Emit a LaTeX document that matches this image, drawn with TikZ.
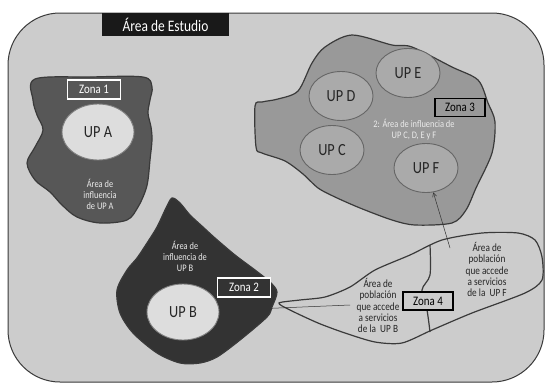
\documentclass[tikz,border=0pt]{standalone}
\usepackage{fontspec}
\setmainfont{Carlito}[FakeStretch=0.84]
\usetikzlibrary{shapes.geometric,arrows.meta}
\definecolor{bgc}{HTML}{CCCCCC}
\definecolor{zoneA}{HTML}{575757}
\definecolor{zoneB}{HTML}{333333}
\definecolor{zoneC}{HTML}{999999}
\definecolor{upc}{HTML}{AAAAAA}
\definecolor{upl}{HTML}{DDDDDD}
\definecolor{edge}{HTML}{3A3A3A}
\tikzset{
  blob/.style={draw=edge, line width=1.2pt},
  upbig/.style={ellipse, draw=gray, line width=0.9pt, fill=upl, minimum width=72pt, minimum height=56pt, inner sep=0pt, font=\fontsize{17}{17}\selectfont, text=black!85},
  upsmall/.style={ellipse, draw=gray!80!black, line width=0.9pt, fill=upc, minimum width=64pt, minimum height=49pt, inner sep=0pt, font=\fontsize{17}{17}\selectfont, text=black!85},
  zonewhite/.style={draw=white, line width=1.2pt, minimum width=53pt, minimum height=19pt, inner sep=0pt, font=\fontsize{13}{13}\selectfont, text=white},
  zoneblack/.style={draw=black, line width=1.4pt, minimum width=50pt, minimum height=18pt, inner sep=0pt, font=\fontsize{13}{13}\selectfont, text=black},
  wlabel/.style={align=center, inner sep=0pt, text=white!92!black, font=\fontsize{10}{11}\selectfont},
  blabel/.style={align=center, inner sep=0pt, text=black!85, font=\fontsize{11}{11.3}\selectfont},
  conn/.style={draw=black!80, line width=0.5pt, -{Straight Barb[length=4pt,width=4pt]}},
}
\begin{document}
\begin{tikzpicture}[x=1pt,y=-1pt]
\useasboundingbox (0,0) rectangle (545,383);
\fill[white] (0,0) rectangle (545,383);
% frame
\draw[fill=bgc, draw=edge, line width=1pt, rounded corners=52pt] (8,13) rectangle (544,382);
% title
\node[fill=black!90, minimum width=127pt, minimum height=23pt, inner sep=0pt, text=white, font=\fontsize{16}{16}\selectfont] (title) at (165.5,24.5) {Área de Estudio};

% Zone A
\draw[blob, fill=zoneA] plot[smooth cycle, tension=0.55] coordinates {
 (35,79) (90,77) (143,77) (152,87) (150,100) (148,113) (151,127) (152,140) (150,160) (148,180) (145,192) (138,207) (127,220) (100,223) (77,217) (62,205) (50,192) (35,180) (27,163) (35,147) (43,130) (37,115) (33,100)};
\node[zonewhite] (z1) at (94,89.5) {Zona 1};
\node[upbig] (upa) at (98,132) {UP A};
\node[wlabel] (la) at (100,194) {Área de\\influencia\\de UP A};

% Zone B
\draw[blob, fill=zoneB] plot[smooth cycle, tension=0.5] coordinates {
 (172,198) (180,203) (190,215) (203,227) (215,238) (235,255) (255,270) (270,282) (277,292) (272,307) (267,317) (240,340) (217,357) (200,363) (180,363) (157,353) (133,333) (120,313) (117,290) (127,270) (137,258) (147,243) (157,227) (166,208)};
\node[wlabel] (lb) at (185,256) {Área de\\influencia de\\UP B};
\node[upbig] (upb) at (183,312) {UP B};
\node[zonewhite, fill=zoneB] (z2) at (244,287.5) {Zona 2};

% Zone 3
\draw[blob, fill=zoneC] plot[smooth cycle, tension=0.5] coordinates {
 (255,106) (262,102) (278,99) (298,91) (312,63) (325,47) (352,35) (392,45) (412,47) (452,67) (478,80) (488,103) (495,122) (492,153) (476,188) (466,210) (452,223) (415,225) (392,220) (360,208) (335,197) (318,188) (303,174) (285,161) (262,153) (256,147)};
\node[upsmall] (upe) at (408,73) {UP E};
\node[upsmall] (upd) at (341,96) {UP D};
\node[upsmall] (upcc) at (332,150) {UP C};
\node[upsmall] (upf) at (426,168) {UP F};
\node[zoneblack, fill=zoneC] (z3) at (460,107.5) {Zona 3};
\node[wlabel] (lc) at (414,130) {2: Área de influencia de\\UP C, D, E y F};

% Zone 4
\draw[blob] plot[smooth cycle, tension=0.45] coordinates {
 (279,303) (300,300) (325,297) (350,287) (375,270) (410,255) (442,240) (482,233) (518,233) (535,240) (542,257) (542,280) (525,293) (472,313) (432,330) (402,343) (375,342) (345,333) (318,323) (290,310)};
\draw[blob] plot[smooth, tension=0.5] coordinates {(430,245) (430,275) (422,290) (427,310) (430,332)};
\node[zoneblack, fill=bgc] (z4) at (428,301) {Zona 4};
\node[blabel] (l4b) at (378,305.5) {Área de\\población\\que accede\\a servicios\\de la~ UP B};
\node[blabel] (l4f) at (487,269.5) {Área de\\población\\que accede\\a servicios\\de la~ UP F};

% connectors
\coordinate (sB) at (350,305);
\coordinate (sF) at (450,248);
\draw[conn] (sB) -- (upb);
\draw[conn] (sF) -- (upf);
\end{tikzpicture}
\end{document}
